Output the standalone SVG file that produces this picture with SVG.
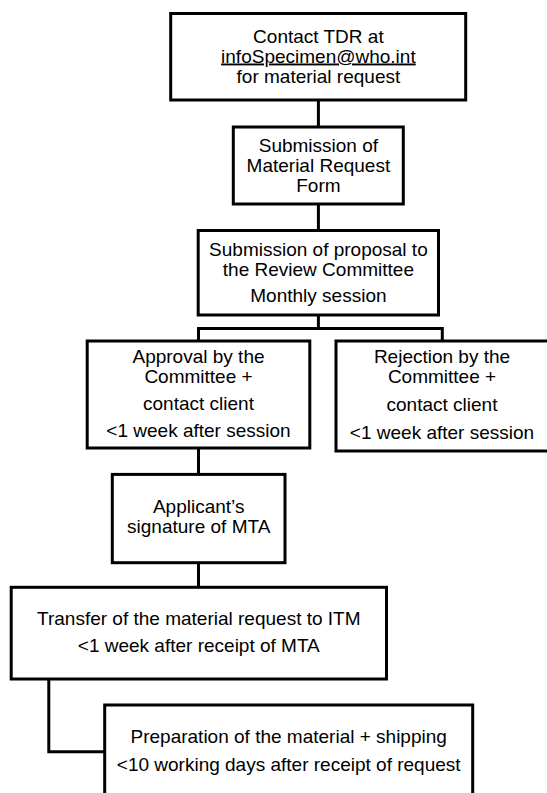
<svg xmlns="http://www.w3.org/2000/svg" width="547" height="793" viewBox="0 0 547 793">
<style>
.box{fill:#fff;stroke:#000;stroke-width:3}
.con{fill:none;stroke:#000;stroke-width:3}
text{font-family:"Liberation Sans",Arial,sans-serif;font-size:19px;fill:#000;text-anchor:middle}
</style>
<rect width="547" height="793" fill="#fff"/>
<g id="connectors">
<line class="con" x1="318.4" y1="100" x2="318.4" y2="127"/>
<line class="con" x1="318.4" y1="204" x2="318.4" y2="230"/>
<polyline class="con" points="318.4,315 318.4,328.5"/>
<polyline class="con" points="198.5,341 198.5,328.5 442.3,328.5 442.3,341"/>
<line class="con" x1="198.5" y1="448" x2="198.5" y2="474"/>
<line class="con" x1="198.5" y1="563" x2="198.5" y2="587"/>
<polyline class="con" points="48.8,679 48.8,751.7 104.7,751.7"/>
</g>
<g id="contact">
<rect class="box" x="170.7" y="13.5" width="295" height="86.5"/>
<text x="318.4" y="42.5">Contact TDR at</text>
<text x="318.4" y="62.5" text-decoration="underline">infoSpecimen@who.int</text>
<text x="318.4" y="82.5">for material request</text>
</g>
<g id="form">
<rect class="box" x="233.3" y="127" width="170" height="77"/>
<text x="318.4" y="151.7">Submission of</text>
<text x="318.4" y="171.7">Material Request</text>
<text x="318.4" y="191.7">Form</text>
</g>
<g id="proposal">
<rect class="box" x="198.2" y="230.5" width="240.3" height="84.5"/>
<text x="318.4" y="256">Submission of proposal to</text>
<text x="318.4" y="276">the Review Committee</text>
<text x="318.4" y="301.7">Monthly session</text>
</g>
<g id="approval">
<rect class="box" x="87.2" y="341" width="222.6" height="107"/>
<text x="198.5" y="362.7">Approval by the</text>
<text x="198.5" y="382.7">Committee +</text>
<text x="198.5" y="410">contact client</text>
<text x="198.5" y="437.3">&lt;1 week after session</text>
</g>
<g id="rejection">
<rect class="box" x="336" y="341" width="213" height="110"/>
<text x="442" y="362.7">Rejection by the</text>
<text x="442" y="382.7">Committee +</text>
<text x="442" y="410.5">contact client</text>
<text x="442" y="439">&lt;1 week after session</text>
</g>
<g id="signature">
<rect class="box" x="112.3" y="474.4" width="172.7" height="88.3"/>
<text x="198.7" y="513.3">Applicant’s</text>
<text x="198.7" y="533.3">signature of MTA</text>
</g>
<g id="transfer">
<rect class="box" x="11.2" y="587.3" width="375.3" height="91.7"/>
<text x="198.8" y="625">Transfer of the material request to ITM</text>
<text x="198.8" y="652.3">&lt;1 week after receipt of MTA</text>
</g>
<g id="preparation">
<rect class="box" x="104.7" y="705" width="368" height="100"/>
<text x="288.7" y="743.3">Preparation of the material + shipping</text>
<text x="288.7" y="770.7">&lt;10 working days after receipt of request</text>
</g>
</svg>
